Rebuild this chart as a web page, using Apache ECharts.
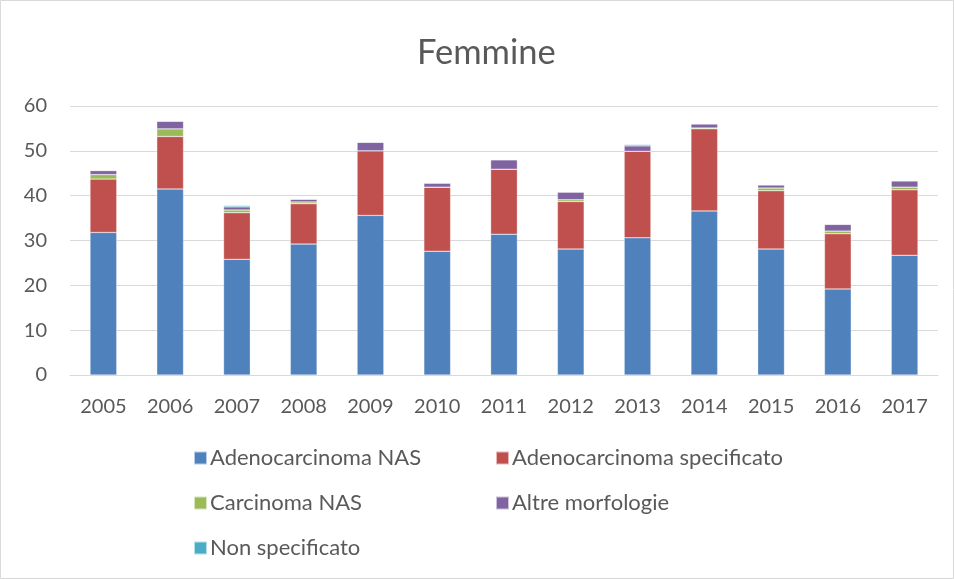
<!DOCTYPE html>
<html>
<head>
<meta charset="utf-8">
<script src="https://cdn.jsdelivr.net/npm/echarts@6/dist/echarts.min.js"></script>
<style>
  html, body { margin: 0; padding: 0; background: #fff; }
  #main { width: 954px; height: 579px; }
</style>
</head>
<body>
<div id="main"></div>
<script>
const years = ['2005', '2006', '2007', '2008', '2009', '2010', '2011', '2012', '2013', '2014', '2015', '2016', '2017'];
const adenoNas = [31.8, 41.5, 25.8, 29.2, 35.6, 27.6, 31.4, 28.1, 30.6, 36.6, 28.1, 19.2, 26.7];
const adenoSpec = [11.9, 11.7, 10.4, 9.0, 14.4, 14.3, 14.5, 10.6, 19.3, 18.3, 13.0, 12.3, 14.6];
const carcinomaNas = [1.0, 1.7, 0.6, 0.4, 0, 0, 0, 0.4, 0, 0.2, 0.6, 0.6, 0.6];
const altre = [0.9, 1.7, 0.7, 0.6, 1.9, 0.9, 2.1, 1.7, 1.2, 0.9, 0.7, 1.5, 1.4];
const nonSpec = [0, 0, 0.3, 0, 0, 0, 0, 0, 0.3, 0, 0, 0, 0];
const yTicks = [0, 10, 20, 30, 40, 50, 60];

const names = ['Adenocarcinoma NAS', 'Adenocarcinoma specificato', 'Carcinoma NAS', 'Altre morfologie', 'Non specificato'];
const colors = ['#4F81BD', '#C0504D', '#9BBB59', '#8064A2', '#4BACC6'];
const values = [adenoNas, adenoSpec, carcinomaNas, altre, nonSpec];

const font = 'Lato, "Liberation Sans", sans-serif';
const textColor = '#595959';

let chart = echarts.init(document.getElementById('main'), null, {renderer: 'canvas'});

const legendBase = {
    orient: 'vertical',
    itemWidth: 13,
    itemHeight: 13,
    itemGap: 21,
    icon: 'rect',
    textStyle: {fontFamily: font, fontSize: 22, lineHeight: 24, color: textColor, padding: [0, 0, 0, -2]},
    selectedMode: false
};

let option = {
    animation: false,
    color: colors,
    title: {
        text: 'Femmine',
        left: 412,
        top: 30,
        textStyle: {fontFamily: font, fontSize: 34.5, fontWeight: 'normal', color: textColor}
    },
    graphic: [{
        type: 'rect',
        shape: {x: 0.5, y: 0.5, width: 953, height: 578},
        style: {fill: 'none', stroke: '#d9d9d9', lineWidth: 1},
        silent: true
    }],
    legend: [
        Object.assign({}, legendBase, {left: 188, top: 441, data: [names[0], names[2], names[4]]}),
        Object.assign({}, legendBase, {left: 490, top: 441, data: [names[1], names[3]]})
    ],
    grid: {left: 70, right: 16, top: 106, bottom: 204, containLabel: false},
    xAxis: {
        type: 'category',
        data: years,
        axisLine: {lineStyle: {color: '#d9d9d9', width: 1}},
        axisTick: {show: false},
        axisLabel: {fontFamily: font, fontSize: 20, color: textColor, margin: 22}
    },
    yAxis: {
        type: 'value',
        min: yTicks[0],
        max: yTicks[yTicks.length - 1],
        interval: 10,
        axisLine: {show: false},
        axisTick: {show: false},
        splitLine: {lineStyle: {color: '#d9d9d9', width: 1}},
        axisLabel: {fontFamily: font, fontSize: 20, color: textColor, margin: 23}
    },
    series: names.map((n, i) => ({
        name: n,
        type: 'bar',
        stack: 'tot',
        barWidth: '40%',
        data: values[i],
        itemStyle: {color: colors[i], borderColor: 'rgba(255,255,255,0.6)', borderWidth: 0.5}
    }))
};

chart.setOption(option);
</script>
</body>
</html>
